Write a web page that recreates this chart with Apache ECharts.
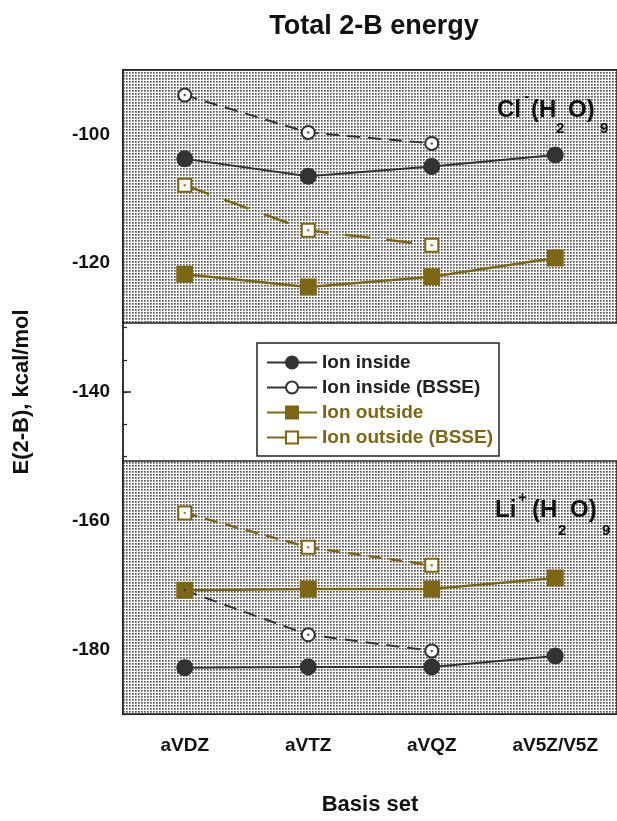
<!DOCTYPE html>
<html>
<head>
<meta charset="utf-8">
<script src="https://cdn.jsdelivr.net/npm/echarts@6/dist/echarts.min.js"></script>
<style>
html,body{margin:0;padding:0;background:#fff;}
#chart{width:617px;height:821px;}
</style>
</head>
<body>
<div id="chart"></div>
<script>
// ---- data ----
var categories = ['aVDZ', 'aVTZ', 'aVQZ', 'aV5Z/V5Z'];
var clInside      = [-103.8, -106.5, -105.0, -103.2];
var clInsideBSSE  = [-93.9, -99.7, -101.4, null];
var clOutside     = [-121.7, -123.7, -122.1, -119.2];
var clOutsideBSSE = [-107.9, -114.9, -117.2, null];
var liInside      = [-182.8, -182.7, -182.7, -181.0];
var liInsideBSSE  = [-170.8, -177.7, -180.2, null];
var liOutside     = [-170.8, -170.6, -170.6, -168.9];
var liOutsideBSSE = [-158.8, -164.1, -166.9, null];
var yMajorTicks = [-180, -160, -140, -120, -100];
var shadedBands = [[-90, -129.3], [-150.7, -190]];
var seriesNames = ['Ion inside', 'Ion inside (BSSE)', 'Ion outside', 'Ion outside (BSSE)'];

var DARK = '#333333';
var OLIVE = '#7d6716';
var FONT = '"Liberation Sans", Arial, sans-serif';

// dotted background pattern
var pc = document.createElement('canvas');
pc.width = 3; pc.height = 3;
var px = pc.getContext('2d');
px.fillStyle = '#ffffff'; px.fillRect(0, 0, 3, 3);
px.fillStyle = '#555555'; px.fillRect(0, 0, 1, 1);
px.fillStyle = '#8a8a8a'; px.fillRect(1, 0, 1, 1); px.fillRect(0, 1, 1, 1);
px.fillStyle = '#aaaaaa'; px.fillRect(1, 1, 1, 1);

function lineSeries(name, data, color, dash, symbol, size) {
  return {
    name: name, type: 'line', data: data,
    symbol: symbol, symbolSize: size,
    itemStyle: { color: color, borderColor: color, borderWidth: 2 },
    lineStyle: { color: color, width: color === OLIVE ? 2.5 : 2, type: dash || 'solid' },
    emphasis: { disabled: true }, animation: false
  };
}
function dotSeries(data, color) {
  return {
    type: 'scatter', data: data, symbol: 'circle', symbolSize: 2.5,
    itemStyle: { color: color }, silent: true, animation: false, z: 5
  };
}

var series = [
  {
    type: 'line', data: [], silent: true,
    markArea: {
      silent: true,
      itemStyle: { color: { image: pc, repeat: 'repeat' }, borderColor: '#222', borderWidth: 1.5 },
      data: shadedBands.map(function (b) { return [{ yAxis: b[0] }, { yAxis: b[1] }]; })
    }
  },
  lineSeries(seriesNames[0], clInside, DARK, null, 'circle', 15),
  lineSeries(seriesNames[0], liInside, DARK, null, 'circle', 15),
  lineSeries(seriesNames[1], clInsideBSSE, DARK, [13, 8], 'emptyCircle', 13),
  lineSeries(seriesNames[1], liInsideBSSE, DARK, [13, 8], 'emptyCircle', 13),
  lineSeries(seriesNames[2], clOutside, OLIVE, null, 'rect', 15),
  lineSeries(seriesNames[2], liOutside, OLIVE, null, 'rect', 15),
  lineSeries(seriesNames[3], clOutsideBSSE, OLIVE, [26, 16], 'emptyRect', 13),
  lineSeries(seriesNames[3], liOutsideBSSE, OLIVE, [13, 8], 'emptyRect', 13),
  dotSeries(clInsideBSSE, DARK), dotSeries(liInsideBSSE, DARK),
  dotSeries(clOutsideBSSE, OLIVE), dotSeries(liOutsideBSSE, OLIVE)
];

var chart = echarts.init(document.getElementById('chart'), null, { renderer: 'canvas' });

function txt(x, y, s, size, color) {
  return { type: 'text', x: x, y: y, z: 100,
    style: { text: s, font: 'bold ' + size + 'px ' + FONT, fill: color || '#111', verticalAlign: 'bottom' } };
}

var option = {
  animation: false,
  backgroundColor: '#fff',
  grid: { left: 123, top: 70, width: 500, height: 660, containLabel: false },
  xAxis: [{
    type: 'category', data: categories, boundaryGap: true, position: 'bottom',
    name: 'Basis set', nameLocation: 'middle', nameGap: 80,
    nameTextStyle: { fontFamily: FONT, fontWeight: 'bold', fontSize: 22, color: '#111' },
    axisLine: { lineStyle: { color: '#222', width: 2 } },
    axisTick: { alignWithLabel: true, inside: true, length: 6, lineStyle: { color: '#222', width: 1.5 } },
    axisLabel: { fontFamily: FONT, fontWeight: 'bold', fontSize: 19, color: '#111', margin: 22 },
    splitLine: { show: false }
  }, {
    type: 'category', data: categories, boundaryGap: true, position: 'top',
    axisLine: { lineStyle: { color: '#222', width: 2 } },
    axisTick: { alignWithLabel: true, inside: true, length: 6, lineStyle: { color: '#222', width: 1.5 } },
    axisLabel: { show: false }, splitLine: { show: false }
  }],
  yAxis: [{
    type: 'value', min: -190, max: -90,
    name: 'E(2-B), kcal/mol', nameLocation: 'middle', nameRotate: 90, nameGap: 90,
    nameTextStyle: { fontFamily: FONT, fontWeight: 'bold', fontSize: 22, color: '#111' },
    axisLine: { show: true, lineStyle: { color: '#333', width: 2 } },
    axisTick: { show: true, inside: true, length: 8, customValues: yMajorTicks, lineStyle: { color: '#222', width: 1.5 } },
    axisLabel: { customValues: yMajorTicks, fontFamily: FONT, fontWeight: 'bold', fontSize: 19, color: '#111', margin: 13 },
    splitLine: { show: false }
  }, {
    type: 'value', min: -190, max: -90, interval: 5, position: 'left',
    axisLine: { show: false },
    axisTick: { show: true, inside: true, length: 4, lineStyle: { color: '#222', width: 1.2 } },
    axisLabel: { show: false }, splitLine: { show: false }
  }],
  legend: {
    orient: 'vertical', left: 257, top: 343,
    padding: [10, 6, 9, 9], itemGap: 6, itemWidth: 50, itemHeight: 15,
    borderColor: '#222', borderWidth: 1.5, backgroundColor: '#fff',
    lineStyle: { type: 'solid' },
    textStyle: { fontFamily: FONT, fontWeight: 'bold', fontSize: 19 },
    data: [
      { name: seriesNames[0], textStyle: { color: '#222' } },
      { name: seriesNames[1], textStyle: { color: '#222' } },
      { name: seriesNames[2], textStyle: { color: OLIVE } },
      { name: seriesNames[3], textStyle: { color: OLIVE } }
    ],
    selectedMode: false
  },
  graphic: [
    { type: 'text', x: 374, y: 26.5, z: 100,
      style: { text: 'Total 2-B energy', font: 'bold 27px ' + FONT, fill: '#111', align: 'center', verticalAlign: 'middle' } },
    txt(497, 122, 'Cl', 24), txt(524, 104, '-', 15), txt(531, 122, '(H', 24), txt(556, 136, '2', 15),
    txt(568, 122, 'O)', 24), txt(600, 136, '9', 15),
    txt(495, 522, 'Li', 24), txt(518, 505, '+', 15), txt(532, 522, '(H', 24), txt(558, 538, '2', 15),
    txt(570, 522, 'O)', 24), txt(602, 538, '9', 15)
  ],
  series: series
};
chart.setOption(option);
</script>
</body>
</html>
